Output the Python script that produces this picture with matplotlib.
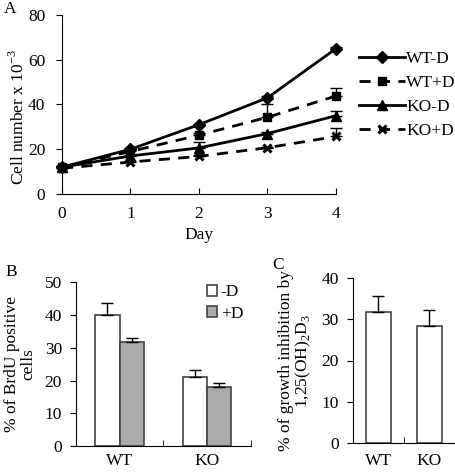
import matplotlib
matplotlib.use("Agg")
import matplotlib.pyplot as plt
import numpy as np

plt.rcParams['font.family'] = ['Liberation Serif', 'DejaVu Serif']
plt.rcParams['mathtext.fontset'] = 'custom'
plt.rcParams['mathtext.rm'] = 'Liberation Serif'

# Panel A data
days = [0, 1, 2, 3, 4]
wt_minus = [12, 20, 31, 43, 65]
wt_minus_err = [0.5, 0.5, 0.5, 0.8, 0.8]
wt_plus = [12, 19, 26.3, 34.3, 43.8]
wt_plus_err = [0.5, 0.5, 0.8, 6.0, 3.7]
ko_minus = [12, 17, 20.6, 27, 35]
ko_minus_err = [0.5, 0.5, 2.8, 0.8, 2.0]
ko_plus = [11.5, 14.3, 16.8, 20.7, 25.7]
ko_plus_err = [0.3, 0.5, 0.5, 0.5, 3.6]

# Panel B data
groups_b = ['WT', 'KO']
brdu_minus = [40, 21.2]
brdu_minus_err = [3.8, 2.0]
brdu_plus = [31.7, 18.1]
brdu_plus_err = [1.2, 1.0]

# Panel C data
groups_c = ['WT', 'KO']
inhib = [31.6, 28.3]
inhib_err = [4.0, 4.0]

W, H = 456, 472
fig = plt.figure(figsize=(W/100, H/100), dpi=100)

def ax_px(l, r, t, b):
    return fig.add_axes([l/W, 1-b/H, (r-l)/W, (b-t)/H])

fs = 12.5

# ---------- Panel A ----------
axA = ax_px(62, 336, 15, 194)
def up(e):
    return [np.zeros(len(e)), e]
series = [
    (wt_minus, wt_minus_err, 'D', 6, '-', 'WT-D', {}),
    (wt_plus, wt_plus_err, 's', 6, (0, (4, 3)), 'WT+D', {}),
    (ko_minus, ko_minus_err, '^', 7.5, '-', 'KO-D', {}),
    (ko_plus, ko_plus_err, 'x', 5.5, (0, (4, 3)), 'KO+D', {'mew': 2.2}),
]
for vals, err, mk, ms, ls, lab, extra in series:
    axA.errorbar(days, vals, yerr=up(err), fmt='none', ecolor='black', capsize=4,
                 elinewidth=1, capthick=1, clip_on=False)
    axA.plot(days, vals, color='black', lw=2, ls=ls, marker=mk, ms=ms,
             label=lab, clip_on=False, **extra)
axA.set_xlim(0, 4)
axA.set_ylim(0, 80)
axA.set_xticks(days)
axA.set_yticks([0, 20, 40, 60, 80])
axA.spines['top'].set_visible(False)
axA.spines['right'].set_visible(False)
axA.tick_params(axis='x', direction='in', length=4, labelsize=fs, pad=9)
axA.tick_params(axis='y', direction='out', length=4, labelsize=fs, pad=8)
axA.set_xlabel('Day', fontsize=fs, labelpad=3)
axA.set_ylabel('Cell number x 10$^{-3}$', fontsize=fs)
axA.yaxis.set_label_coords(-0.125, 0.43)
axA.legend(loc='upper left', bbox_to_anchor=(1.06, 0.84), frameon=False, fontsize=fs,
           handlelength=2.6, handletextpad=0.1, labelspacing=0.45, borderaxespad=0)
fig.text(4/W, 1-9/H, 'A', fontsize=fs, ha='left', va='center')

# ---------- Panel B ----------
ekw = dict(ecolor='black', capsize=4, elinewidth=1, capthick=1)
axB = ax_px(76, 250.7, 282.3, 446)
xb = np.arange(len(groups_b))
bw = 0.28
axB.bar(xb - bw/2, brdu_minus, bw, color='white', edgecolor='#444444', lw=1.2, label='-D',
        yerr=[np.zeros(2), brdu_minus_err], error_kw=ekw)
axB.bar(xb + bw/2, brdu_plus, bw, color='#aaaaaa', edgecolor='#444444', lw=1.2, label='+D',
        yerr=[np.zeros(2), brdu_plus_err], error_kw=ekw)
axB.set_xlim(-0.5, 1.5)
axB.set_ylim(0, 50)
axB.set_yticks([0, 10, 20, 30, 40, 50])
axB.set_xticks(xb)
axB.set_xticklabels(groups_b)
axB.set_xticks([0.5, 1.5], minor=True)
axB.tick_params(axis='x', which='major', length=0, labelsize=fs, pad=5)
axB.tick_params(axis='x', which='minor', direction='in', length=4)
axB.tick_params(axis='y', direction='out', length=4, labelsize=fs, pad=6)
axB.spines['top'].set_visible(False)
axB.spines['right'].set_visible(False)
axB.set_ylabel('% of BrdU positive\ncells', fontsize=fs, labelpad=6, linespacing=1.0)
axB.legend(loc='upper left', bbox_to_anchor=(0.71, 1.03), frameon=False, fontsize=fs,
           handlelength=0.6, handleheight=0.6, handletextpad=0.2, labelspacing=0.3, borderaxespad=0)
fig.text(5/W, 1-272/H, 'B', fontsize=fs, ha='left', va='center')

# ---------- Panel C ----------
axC = ax_px(352.7, 455, 277.7, 443.3)
xc = np.arange(len(groups_c))
axC.bar(xc, inhib, 0.49, color='white', edgecolor='#444444', lw=1.2,
        yerr=[np.zeros(2), inhib_err], error_kw=ekw)
axC.set_xlim(-0.5, 1.5)
axC.set_ylim(0, 40)
axC.set_yticks([0, 10, 20, 30, 40])
axC.set_xticks(xc)
axC.set_xticklabels(groups_c)
axC.set_xticks([0.5, 1.5], minor=True)
axC.tick_params(axis='x', which='major', length=0, labelsize=fs, pad=7)
axC.tick_params(axis='x', which='minor', direction='in', length=4)
axC.tick_params(axis='y', direction='out', length=4, labelsize=fs, pad=6)
axC.spines['top'].set_visible(False)
axC.spines['right'].set_visible(False)
axC.set_ylabel('% of growth inhibition by\n1,25(OH)$_2$D$_3$', fontsize=fs, labelpad=6, linespacing=1.0)
fig.text(272/W, 1-265/H, 'C', fontsize=fs, ha='left', va='center')

fig.savefig('out.png', dpi=100)
